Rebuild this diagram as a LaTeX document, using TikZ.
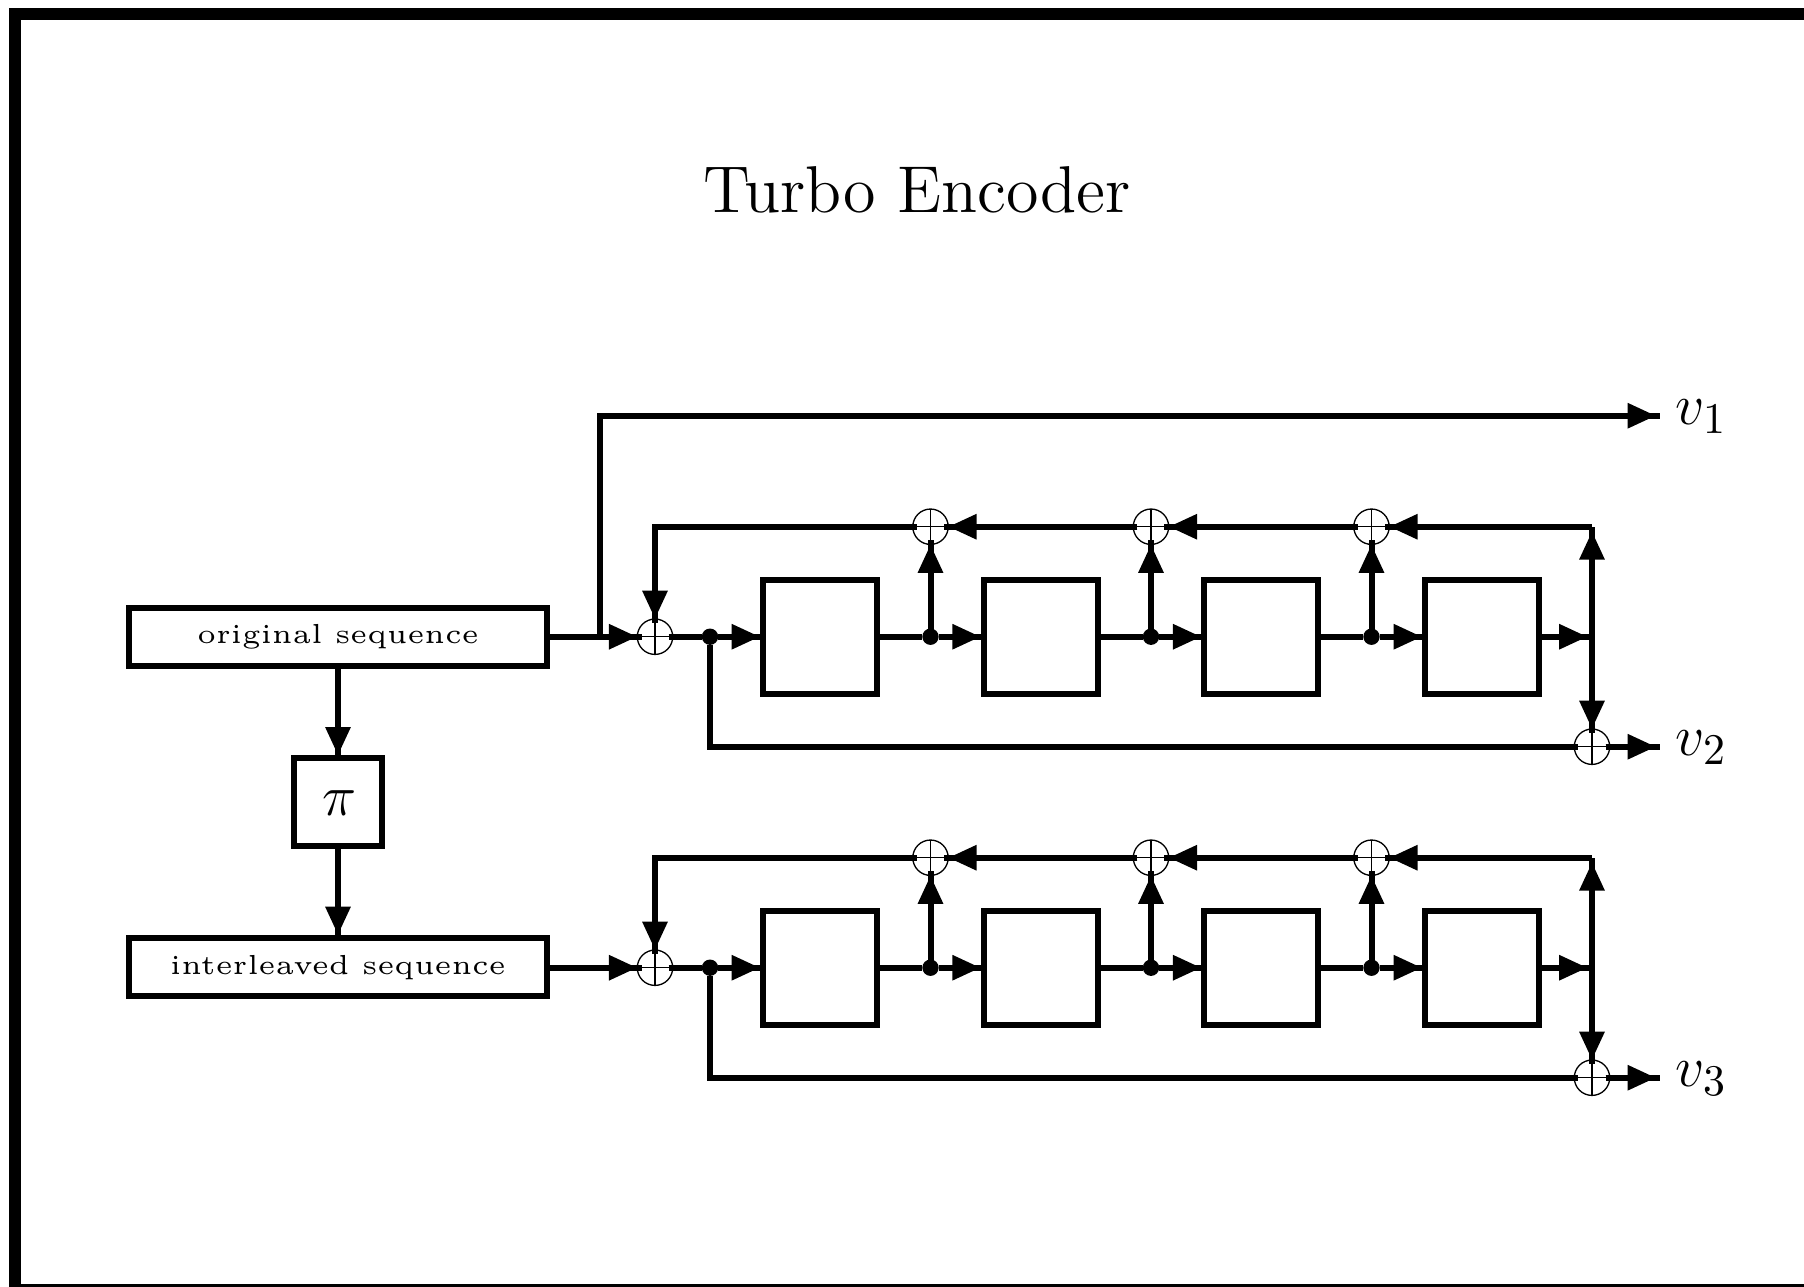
\documentclass[tikz,border=0pt]{standalone}
\usepackage{graphicx}
\usetikzlibrary{arrows.meta}
\tikzset{
  wire/.style={line width=1.5pt,line join=miter},
  arr/.style={wire,-{Triangle[length=7.1pt,width=6pt]},postaction={draw,-,shorten >=-1.1pt}},
  inx/.style={shorten <=-1pt},
  outx/.style={shorten >=-1pt},
  regbox/.style={draw,line width=1.5pt,minimum width=28.5pt,minimum height=28.5pt,inner sep=0pt},
  seqbox/.style={draw,line width=1.5pt,minimum width=104.5pt,minimum height=14.6pt,inner sep=0pt},
  pibox/.style={draw,line width=1.5pt,minimum width=21.9pt,minimum height=21.9pt,inner sep=0pt},
  xorn/.style={circle,draw,line width=.33pt,minimum size=8.85pt,inner sep=0pt,outer sep=0pt,
    path picture={\draw[line width=.33pt] (path picture bounding box.north)--(path picture bounding box.south)
      (path picture bounding box.west)--(path picture bounding box.east);}},
  dotn/.style={circle,fill=black,minimum size=4.1pt,inner sep=0pt,outer sep=0pt},
  seqlabel/.style={font=\tiny},
  biglabel/.style={font=\fontsize{15.7}{18}\selectfont,inner sep=0pt},
}
\newcommand{\seqtext}[1]{\scalebox{1.376}{#1}}
\begin{document}
\begin{tikzpicture}[x=.25pt,y=-.25pt]
\useasboundingbox (0,0) rectangle (1804,1287);
\clip (0,0) rectangle (1804,1287);
\draw[line width=3pt] (15,14) rectangle (1830,1290);
\begin{scope}[yshift=-.18pt]
\node[anchor=base,font=\large,inner sep=0pt] (title) at (917,212) {\scalebox{1.38}{Turbo Encoder}};
\node[seqbox,seqlabel] (orig) at (338,636.5) {\seqtext{original sequence}};
\node[seqbox,seqlabel] (inter) at (338,966.5) {\seqtext{interleaved sequence}};
\node[pibox,biglabel] (pi) at (338,801.5) {\kern.7pt\raisebox{-.1pt}[\height][\depth]{$\pi$}};
\draw[arr] (orig.south) -- (pi.north);
\draw[arr] (pi.south) -- (inter.north);
\foreach \r/\y/\src/\lab in {1/636/orig/v_2,2/967/inter/v_3}{
  \node[xorn] (in\r) at (655,\y) {};
  \node[dotn] (d0\r) at (710,\y) {};
  \foreach \k/\bx/\dx in {1/820/930.5,2/1040.7/1151,3/1261.3/1371.5}{
    \node[regbox] (b\k\r) at (\bx,\y) {};
    \node[dotn] (d\k\r) at (\dx,\y) {};
    \node[xorn] (x\k\r) at (\dx,\y-110) {};
  }
  \node[regbox] (b4\r) at (1482,\y) {};
  \coordinate (tl\r) at (655,\y-110);
  \coordinate (tr\r) at (1592,\y-110);
  \coordinate (tt\r) at (1592,\y-105.5);
  \coordinate (j\r) at (1587.5,\y);
  \coordinate (jj\r) at (1592,\y);
  \coordinate (bl\r) at (710,\y+110);
  \node[xorn] (o\r) at (1592,\y+110) {};
  \coordinate (e\r) at (1656,\y+110);
  \node[anchor=base west,biglabel] (l\r) at (1675,\y+119) {$\lab$};
  \draw[arr] (\src.east |- in\r.west) -- (in\r.west);
  \draw[wire,inx] (in\r.east) -- (d0\r);
  \draw[arr] (d0\r) -- (b1\r.west);
  \foreach \k/\n in {1/2,2/3,3/4}{
    \draw[wire] (b\k\r.east) -- (d\k\r);
    \draw[arr] (d\k\r) -- (b\n\r.west);
    \draw[arr] (d\k\r) -- (x\k\r.south);
  }
  \draw[arr] (b4\r.east) -- (j\r);
  \draw[arr] (jj\r) -- (tt\r);
  \draw[arr] (jj\r) -- (o\r.north);
  \draw[arr] (tr\r) -- (x3\r.east);
  \draw[arr,inx] (x3\r.west) -- (x2\r.east);
  \draw[arr,inx] (x2\r.west) -- (x1\r.east);
  \draw[arr,inx] (x1\r.west) -- (tl\r) -- (in\r.north);
  \draw[wire,outx] (d0\r) -- (bl\r) -- (o\r.west);
  \draw[arr,inx] (o\r.east) -- (e\r);
}
\coordinate (vb) at (600,636);
\coordinate (vc) at (600,415);
\coordinate (ve) at (1656,415);
\draw[arr] (vb) -- (vc) -- (ve);
\node[anchor=base west,biglabel] (l0) at (1675,424) {$v_1$};
\end{scope}
\end{tikzpicture}
\end{document}
